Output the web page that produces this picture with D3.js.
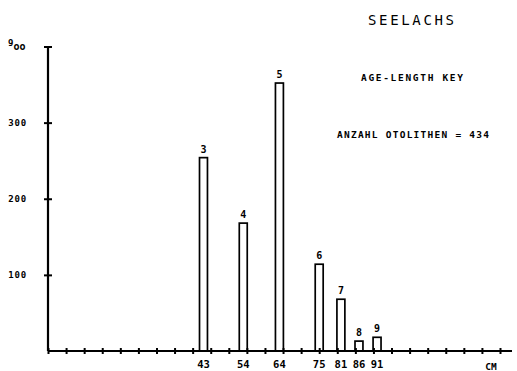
<!DOCTYPE html>
<html>
<head>
<meta charset="utf-8">
<script src="https://cdn.jsdelivr.net/npm/d3@7"></script>
<style>
  body { margin: 0; background: #fff; }
  svg { display: block; }
  text { font-family: "DejaVu Sans Mono", monospace; fill: #000; }
</style>
</head>
<body>
<div id="chart"></div>
<script>
// age groups, length (cm) of each bar and per-mille share
var ages = ['3', '4', '5', '6', '7', '8', '9'];
var lengths = [43, 54, 64, 75, 81, 86, 91];
var perMille = [254, 168, 352, 114, 68, 13, 18];
var yTicks = [100, 200, 300, 400];
var yTickLabels = ['100', '200', '300', ''];

var width = 517, height = 371;

var svg = d3.select('#chart').append('svg')
  .attr('width', width)
  .attr('height', height);

var x = d3.scaleLinear().domain([0, 125]).range([48, 500]);
var y = d3.scaleLinear().domain([0, 400]).range([351, 46.5]);
var halfBar = 1.1; // cm

var data = ages.map(function(a, i) {
  return { age: a, len: lengths[i], val: perMille[i] };
});

// bars
svg.append('g').selectAll('rect')
  .data(data)
  .enter()
  .append('rect')
  .attr('x', function(d) { return x(d.len - halfBar); })
  .attr('y', function(d) { return y(d.val); })
  .attr('width', function(d) { return x(d.len + halfBar) - x(d.len - halfBar); })
  .attr('height', function(d) { return y(0) - y(d.val); })
  .attr('fill', 'none')
  .attr('stroke', '#000')
  .attr('stroke-width', 1.7);

// age labels above bars
svg.append('g').selectAll('text')
  .data(data)
  .enter()
  .append('text')
  .attr('x', function(d) { return x(d.len); })
  .attr('y', function(d) { return y(d.val) - 5; })
  .attr('text-anchor', 'middle')
  .attr('font-size', 10)
  .attr('font-weight', 'bold')
  .text(function(d) { return d.age; });

// x axis: ticks every 5 cm, small crosses
var xAxis = d3.axisBottom(x)
  .tickValues(d3.range(0, 126, 5))
  .tickSize(3)
  .tickFormat('');
var gx = svg.append('g')
  .attr('transform', 'translate(0,' + y(0) + ')')
  .call(xAxis);
gx.select('.domain').remove();
gx.selectAll('.tick line')
  .attr('y1', -3).attr('y2', 3)
  .attr('stroke-width', 2);
gx.append('line')
  .attr('x1', x(0)).attr('x2', 512)
  .attr('stroke', '#000').attr('stroke-width', 2.2);

// length labels under bars
svg.append('g').selectAll('text')
  .data(data)
  .enter()
  .append('text')
  .attr('x', function(d) { return x(d.len); })
  .attr('y', 368)
  .attr('text-anchor', 'middle')
  .attr('font-size', 10.5)
  .attr('font-weight', 'bold')
  .text(function(d) { return d.len; });

svg.append('text')
  .attr('x', 491)
  .attr('y', 370)
  .attr('text-anchor', 'middle')
  .attr('font-size', 9.5)
  .attr('font-weight', 'bold')
  .text('CM');

// y axis with crossing ticks
var yAxis = d3.axisLeft(y)
  .tickValues(yTicks)
  .tickSize(4)
  .tickFormat(function(d, i) { return yTickLabels[i]; });
var gy = svg.append('g')
  .attr('transform', 'translate(' + x(0) + ',0)')
  .call(yAxis);
gy.select('.domain').remove();
gy.selectAll('.tick line')
  .attr('x1', -4).attr('x2', 4)
  .attr('stroke-width', 2);
gy.selectAll('.tick text')
  .attr('x', -21)
  .attr('font-family', '"DejaVu Sans Mono", monospace')
  .attr('font-size', 9)
  .attr('font-weight', 'bold')
  .attr('letter-spacing', 0.8);
gy.append('line')
  .attr('y1', y(0)).attr('y2', y(400))
  .attr('stroke', '#000').attr('stroke-width', 2.2);

// unit label at top of y axis
var unit = svg.append('text')
  .attr('x', 8)
  .attr('y', 50)
  .attr('font-weight', 'bold');
unit.append('tspan').attr('font-size', 9).attr('dy', -4).text('9');
unit.append('tspan').attr('font-size', 10).attr('dy', 4).text('oo');

// titles
svg.append('text')
  .attr('x', 368).attr('y', 25)
  .attr('font-size', 14)
  .attr('textLength', 86)
  .attr('lengthAdjust', 'spacing')
  .text('SEELACHS');

svg.append('text')
  .attr('x', 361).attr('y', 81)
  .attr('font-size', 9.5)
  .attr('font-weight', 'bold')
  .attr('textLength', 102)
  .attr('lengthAdjust', 'spacing')
  .text('AGE-LENGTH KEY');

svg.append('text')
  .attr('x', 337).attr('y', 138)
  .attr('font-size', 9.5)
  .attr('font-weight', 'bold')
  .attr('textLength', 152)
  .attr('lengthAdjust', 'spacing')
  .text('ANZAHL OTOLITHEN = 434');
</script>
</body>
</html>
